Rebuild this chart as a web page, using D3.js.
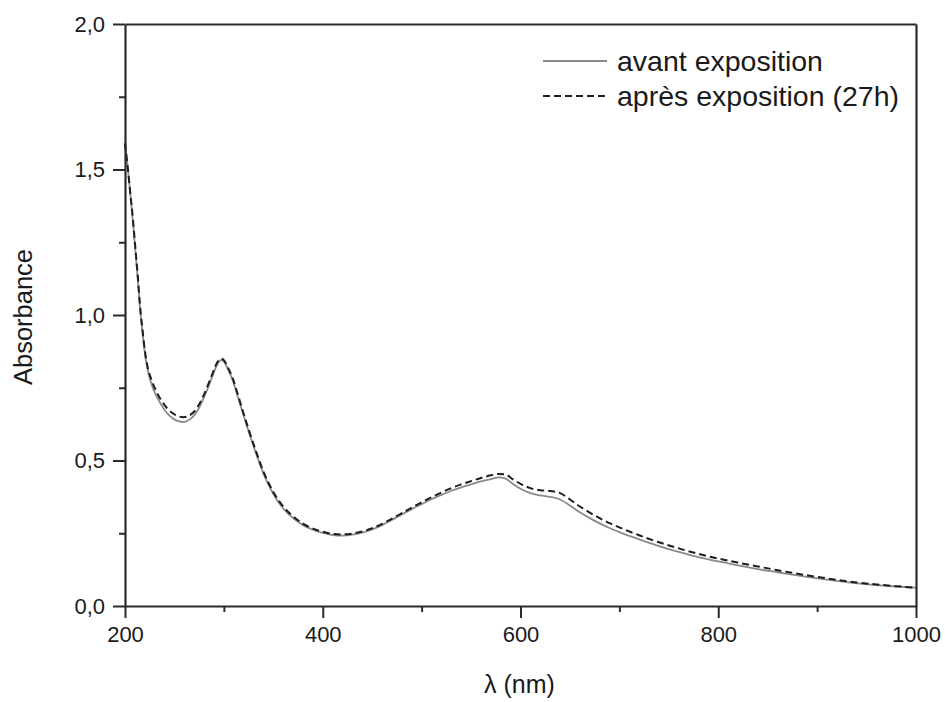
<!DOCTYPE html>
<html><head><meta charset="utf-8">
<script src="https://cdn.jsdelivr.net/npm/d3@7"></script>
<style>body{margin:0;background:#fff}svg{display:block}text{font-family:"Liberation Sans",Arial,sans-serif;fill:#1a1a1a}</style>
</head><body>
<svg id="c" width="945" height="702"></svg>
<script>
const wavelengths = [200,203,205,208,210,213,215,218,220,223,227,232,237,242,248,254,259,264,269,274,279,284,289,293,297,300,304,309,314,319,325,333,340,350,360,370,380,390,400,410,420,430,440,450,460,470,480,490,500,510,520,530,540,550,560,570,578,585,592,600,610,620,630,640,650,660,670,680,690,700,720,740,760,780,800,820,840,860,880,900,920,940,960,980,1000];
const avant = [1.59,1.50,1.43,1.32,1.24,1.12,1.03,0.93,0.87,0.81,0.76,0.72,0.69,0.665,0.645,0.635,0.632,0.638,0.652,0.675,0.71,0.75,0.795,0.828,0.845,0.84,0.815,0.775,0.72,0.665,0.60,0.52,0.455,0.385,0.335,0.302,0.278,0.262,0.251,0.244,0.242,0.245,0.252,0.263,0.278,0.296,0.315,0.333,0.350,0.367,0.382,0.396,0.408,0.418,0.428,0.436,0.442,0.438,0.42,0.403,0.388,0.380,0.375,0.366,0.345,0.322,0.302,0.284,0.268,0.254,0.229,0.206,0.186,0.168,0.153,0.140,0.127,0.116,0.105,0.095,0.086,0.078,0.072,0.067,0.063];
const apres = [1.59,1.50,1.43,1.33,1.25,1.13,1.04,0.94,0.88,0.82,0.775,0.735,0.705,0.682,0.663,0.652,0.649,0.653,0.665,0.687,0.72,0.76,0.803,0.835,0.85,0.845,0.82,0.782,0.728,0.672,0.607,0.527,0.462,0.392,0.342,0.308,0.283,0.266,0.255,0.248,0.246,0.249,0.256,0.267,0.282,0.300,0.319,0.338,0.356,0.374,0.39,0.405,0.418,0.429,0.440,0.449,0.454,0.452,0.436,0.42,0.405,0.398,0.395,0.388,0.366,0.342,0.321,0.302,0.285,0.27,0.243,0.219,0.198,0.179,0.163,0.149,0.136,0.123,0.111,0.100,0.090,0.081,0.074,0.068,0.063];
const xMajorTicks = [200,400,600,800,1000];
const xMinorTicks = [300,500,700,900];
const yMajorTicks = [0,0.5,1.0,1.5,2.0];
const yMinorTicks = [0.25,0.75,1.25,1.75];
const seriesNames = ["avant exposition","après exposition (27h)"];
const xLabel = "λ (nm)";
const yLabel = "Absorbance";

(function(){
const svg = d3.select("#c");
const L = 125, R = 916, T = 24, B = 606;
const x = d3.scaleLinear().domain([200,1000]).range([L,R]);
const y = d3.scaleLinear().domain([0,2]).range([B,T]);
const fmt = d => d3.format(".1f")(d).replace(".", ",");
const axisColor = "#2a2a2a";

const line = d3.line().x((d,i)=>x(wavelengths[i])).y(d=>y(d)).curve(d3.curveMonotoneX);
svg.append("path").attr("d", line(avant)).attr("fill","none").attr("stroke","#8a8a8a").attr("stroke-width",1.8);
svg.append("path").attr("d", line(apres)).attr("fill","none").attr("stroke","#1e1e1e").attr("stroke-width",2).attr("stroke-dasharray","7,4");

function styleAxis(g){
  g.select(".domain").attr("stroke",axisColor).attr("stroke-width",2.2);
  g.selectAll(".tick line").attr("stroke",axisColor).attr("stroke-width",2);
  g.selectAll(".tick text").style("font-size","22px").attr("fill","#1a1a1a");
}
const xAx = svg.append("g").attr("transform",`translate(0,${B})`)
  .call(d3.axisBottom(x).tickValues(xMajorTicks).tickSize(12).tickSizeOuter(0).tickPadding(8).tickFormat(d3.format("d")));
styleAxis(xAx);
const xMin = svg.append("g").attr("transform",`translate(0,${B})`)
  .call(d3.axisBottom(x).tickValues(xMinorTicks).tickSize(6).tickSizeOuter(0).tickFormat(""));
xMin.select(".domain").remove();
xMin.selectAll(".tick line").attr("stroke",axisColor).attr("stroke-width",2);

const yAx = svg.append("g").attr("transform",`translate(${L},0)`)
  .call(d3.axisLeft(y).tickValues(yMajorTicks).tickSize(12).tickSizeOuter(0).tickPadding(8).tickFormat(fmt));
styleAxis(yAx);
const yMin = svg.append("g").attr("transform",`translate(${L},0)`)
  .call(d3.axisLeft(y).tickValues(yMinorTicks).tickSize(6).tickSizeOuter(0).tickFormat(""));
yMin.select(".domain").remove();
yMin.selectAll(".tick line").attr("stroke",axisColor).attr("stroke-width",2);

const topAx = svg.append("g").attr("transform",`translate(0,${T})`).call(d3.axisTop(x).tickValues([]).tickSizeOuter(0));
topAx.select(".domain").attr("stroke",axisColor).attr("stroke-width",2.2);
const rightAx = svg.append("g").attr("transform",`translate(${R},0)`).call(d3.axisRight(y).tickValues([]).tickSizeOuter(0));
rightAx.select(".domain").attr("stroke",axisColor).attr("stroke-width",2.2);

svg.append("text").attr("x",(L+R)/2 - 1).attr("y",693).attr("text-anchor","middle").style("font-size","25px").text(xLabel);
svg.append("text").attr("transform",`translate(32,${(T+B)/2 + 2}) rotate(-90)`).attr("text-anchor","middle").style("font-size","25.5px").text(yLabel);

const leg = svg.append("g");
const legY = [61, 96];
leg.append("line").attr("x1",543).attr("x2",607).attr("y1",legY[0]).attr("y2",legY[0]).attr("stroke","#8a8a8a").attr("stroke-width",1.8);
leg.append("line").attr("x1",543).attr("x2",607).attr("y1",legY[1]).attr("y2",legY[1]).attr("stroke","#1e1e1e").attr("stroke-width",2).attr("stroke-dasharray","7,4");
seriesNames.forEach((n,i)=>{
  leg.append("text").attr("x",617).attr("y",legY[i]+10).style("font-size","28.5px").text(n);
});
})();
</script>
</body></html>
